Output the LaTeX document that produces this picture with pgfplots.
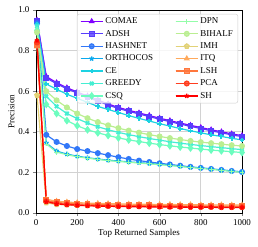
\documentclass[border=0pt]{standalone}
\usepackage{pgfplots}
\usepackage{pgfplotstable}
\pgfplotsset{compat=1.18}
\usepackage{fontspec}
\setmainfont{Liberation Serif}
\usetikzlibrary{plotmarks}

\definecolor{c0}{rgb}{0.5,0,1}
\definecolor{c1}{rgb}{0.346,0.239,0.993}
\definecolor{c2}{rgb}{0.192,0.465,0.971}
\definecolor{c3}{rgb}{0.038,0.663,0.935}
\definecolor{c4}{rgb}{0.115,0.823,0.885}
\definecolor{c5}{rgb}{0.269,0.935,0.823}
\definecolor{c6}{rgb}{0.423,0.993,0.749}
\definecolor{c7}{rgb}{0.577,0.993,0.663}
\definecolor{c8}{rgb}{0.731,0.935,0.568}
\definecolor{c9}{rgb}{0.885,0.823,0.465}
\definecolor{c10}{rgb}{1,0.663,0.355}
\definecolor{c11}{rgb}{1,0.465,0.239}
\definecolor{c12}{rgb}{1,0.239,0.120}
\definecolor{c13}{rgb}{1,0,0}

\pgfplotstableread{
x    COMAE ADSH  HASHNET ORTHO CE    GREEDY CSQ   DPN   BIHALF IMH   ITQ   LSH   PCA   SH
5    0.950 0.948 0.935   0.930 0.930 0.920  0.900 0.880 0.890  0.580 0.820 0.830 0.840 0.850
50   0.672 0.665 0.385   0.345 0.635 0.575  0.535 0.340 0.600  0.050 0.068 0.062 0.058 0.055
100  0.642 0.637 0.350   0.305 0.610 0.525  0.490 0.300 0.555  0.042 0.058 0.052 0.047 0.045
150  0.617 0.612 0.330   0.290 0.585 0.490  0.455 0.287 0.520  0.040 0.054 0.048 0.043 0.041
200  0.596 0.591 0.315   0.280 0.565 0.465  0.430 0.277 0.490  0.038 0.051 0.045 0.040 0.038
250  0.576 0.571 0.305   0.272 0.545 0.443  0.410 0.270 0.467  0.037 0.049 0.043 0.038 0.036
300  0.556 0.551 0.295   0.266 0.525 0.425  0.395 0.264 0.448  0.036 0.047 0.041 0.036 0.034
350  0.537 0.532 0.285   0.260 0.510 0.410  0.382 0.258 0.432  0.035 0.046 0.040 0.035 0.033
400  0.520 0.515 0.275   0.256 0.495 0.397  0.370 0.254 0.418  0.035 0.045 0.039 0.034 0.032
450  0.506 0.501 0.266   0.252 0.480 0.386  0.360 0.250 0.406  0.034 0.044 0.038 0.033 0.031
500  0.493 0.488 0.258   0.248 0.466 0.376  0.352 0.246 0.396  0.034 0.043 0.037 0.033 0.031
550  0.480 0.475 0.251   0.244 0.453 0.367  0.344 0.242 0.386  0.034 0.043 0.037 0.032 0.030
600  0.467 0.462 0.245   0.240 0.440 0.359  0.337 0.238 0.377  0.033 0.042 0.036 0.032 0.030
650  0.455 0.450 0.239   0.236 0.428 0.351  0.331 0.234 0.369  0.033 0.042 0.036 0.031 0.029
700  0.443 0.438 0.233   0.231 0.416 0.344  0.325 0.229 0.362  0.033 0.041 0.035 0.031 0.029
750  0.432 0.427 0.227   0.226 0.405 0.338  0.320 0.224 0.355  0.032 0.041 0.035 0.030 0.028
800  0.421 0.416 0.222   0.222 0.395 0.332  0.315 0.220 0.349  0.032 0.040 0.035 0.030 0.028
850  0.410 0.405 0.217   0.217 0.385 0.327  0.310 0.215 0.344  0.032 0.040 0.034 0.030 0.028
900  0.400 0.395 0.212   0.212 0.377 0.322  0.306 0.210 0.339  0.032 0.040 0.034 0.029 0.027
950  0.390 0.385 0.207   0.207 0.368 0.317  0.302 0.205 0.334  0.031 0.039 0.034 0.029 0.027
1000 0.381 0.376 0.202   0.202 0.360 0.312  0.298 0.200 0.330  0.031 0.039 0.034 0.029 0.027
}\data

\begin{document}
\begin{tikzpicture}[font=\fontsize{9}{11}\selectfont]
\begin{axis}[
  scale only axis, width=206bp, height=203bp,
  xmin=0, xmax=1000, ymin=0, ymax=1,
  xtick={0,200,...,1000}, ytick={0,0.2,...,1.0},
  yticklabel style={/pgf/number format/.cd,fixed,fixed zerofill,precision=1},
  /pgf/number format/1000 sep={},
  /pgf/number format/assume math mode=true,
  tick align=outside, tick pos=left,
  major tick length=3bp,
  grid=major, grid style={gray!35, line width=0.7pt},
  axis line style={line width=0.6pt},
  xlabel={Top Returned Samples}, ylabel={Precision},
  xlabel style={yshift=3bp}, ylabel style={yshift=-3bp},
  every axis plot/.append style={line width=1.2pt, mark size=2.4bp, mark options={solid}},
  legend columns=7, transpose legend,
  legend style={at={(1,1)}, anchor=north east, xshift=-4bp, yshift=-4bp,
    draw=gray!40, fill=white, fill opacity=0.8, text opacity=1, rounded corners=2bp,
    font=\fontsize{9}{11}\selectfont, row sep=1bp, inner xsep=3bp, inner ysep=1.5bp,
    /tikz/every even column/.append style={column sep=20bp}},
  legend image code/.code={\draw[#1] (0cm,0cm) -- (0.78cm,0cm); \draw[#1, mark repeat=2, mark phase=2] plot coordinates {(0cm,0cm) (0.39cm,0cm) (0.78cm,0cm)};},
  legend cell align=left,
]
\addplot[c0, mark=triangle*] table[x=x,y=COMAE]{\data}; \addlegendentry{COMAE}
\addplot[c1, mark=square*] table[x=x,y=ADSH]{\data}; \addlegendentry{ADSH}
\addplot[c2, mark=*] table[x=x,y=HASHNET]{\data}; \addlegendentry{HASHNET}
\addplot[c3, mark=star, mark options={line width=1.4pt}] table[x=x,y=ORTHO]{\data}; \addlegendentry{ORTHOCOS}
\addplot[c4, mark=+, mark options={line width=2pt}] table[x=x,y=CE]{\data}; \addlegendentry{CE}
\addplot[c5, mark=x, mark options={line width=2pt}] table[x=x,y=GREEDY]{\data}; \addlegendentry{GREEDY}
\addplot[c6, mark=diamond*, mark size=3bp] table[x=x,y=CSQ]{\data}; \addlegendentry{CSQ}
\addplot[c7, mark=+, mark options={line width=0.8pt}] table[x=x,y=DPN]{\data}; \addlegendentry{DPN}
\addplot[c8, mark=*] table[x=x,y=BIHALF]{\data}; \addlegendentry{BIHALF}
\addplot[c9, mark=pentagon*] table[x=x,y=IMH]{\data}; \addlegendentry{IMH}
\addplot[c10, mark=triangle*] table[x=x,y=ITQ]{\data}; \addlegendentry{ITQ}
\addplot[c11, mark=square*] table[x=x,y=LSH]{\data}; \addlegendentry{LSH}
\addplot[c12, mark=*] table[x=x,y=PCA]{\data}; \addlegendentry{PCA}
\addplot[c13, mark=star, mark options={line width=1.4pt}] table[x=x,y=SH]{\data}; \addlegendentry{SH}
\end{axis}
\pgfresetboundingbox
\path (-36bp,-34bp) rectangle (222bp,213bp);
\end{tikzpicture}
\end{document}
